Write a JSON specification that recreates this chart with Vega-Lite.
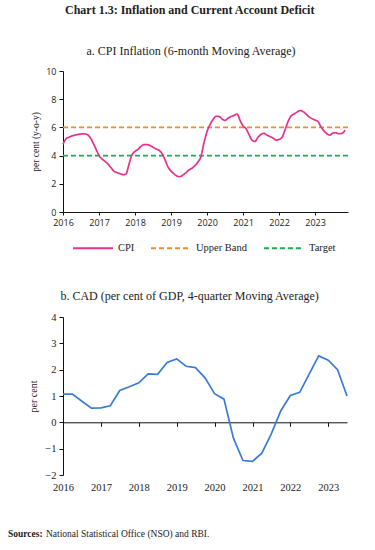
{
  "$schema": "https://vega.github.io/schema/vega-lite/v6.json",
  "background": "white",
  "padding": {"left": 7, "top": 4, "right": 5, "bottom": 5},
  "title": {"text": "Chart 1.3: Inflation and Current Account Deficit", "font": "Liberation Serif", "fontSize": 12, "fontWeight": "bold", "color": "#222", "anchor": "middle", "frame": "bounds", "offset": 28, "dx": 10},
  "config": {
    "view": {"stroke": null},
    "axis": {"grid": false, "domainColor": "#111", "tickColor": "#111", "labelColor": "#222", "titleColor": "#222", "titleFontWeight": "normal", "titleFont": "Liberation Serif", "labelOverlap": false}
  },
  "resolve": {"legend": {"color": "independent", "strokeDash": "independent"}},
  "spacing": 36,
  "vconcat": [
    {
      "title": {"text": "a. CPI Inflation (6-month Moving Average)", "font": "Liberation Serif", "fontSize": 12, "fontWeight": "normal", "color": "#222", "frame": "bounds", "anchor": "middle", "offset": 9},
      "width": 285,
      "height": 141,
      "data": {"values": [
        {"d": "2016-01-01", "CPI": 4.8, "Upper Band": 6, "Target": 4},
        {"d": "2016-02-01", "CPI": 5.2}, {"d": "2016-03-01", "CPI": 5.3}, {"d": "2016-04-01", "CPI": 5.4},
        {"d": "2016-05-01", "CPI": 5.45}, {"d": "2016-06-01", "CPI": 5.5}, {"d": "2016-07-01", "CPI": 5.53},
        {"d": "2016-08-01", "CPI": 5.55}, {"d": "2016-09-01", "CPI": 5.5}, {"d": "2016-10-01", "CPI": 5.3},
        {"d": "2016-11-01", "CPI": 4.9}, {"d": "2016-12-01", "CPI": 4.45},
        {"d": "2017-01-01", "CPI": 4.0}, {"d": "2017-02-01", "CPI": 3.75}, {"d": "2017-03-01", "CPI": 3.6},
        {"d": "2017-04-01", "CPI": 3.4}, {"d": "2017-05-01", "CPI": 3.15}, {"d": "2017-06-01", "CPI": 2.9},
        {"d": "2017-07-01", "CPI": 2.8}, {"d": "2017-08-01", "CPI": 2.72}, {"d": "2017-09-01", "CPI": 2.65},
        {"d": "2017-10-01", "CPI": 2.7}, {"d": "2017-11-01", "CPI": 3.4}, {"d": "2017-12-01", "CPI": 4.05},
        {"d": "2018-01-01", "CPI": 4.3}, {"d": "2018-02-01", "CPI": 4.45}, {"d": "2018-03-01", "CPI": 4.65},
        {"d": "2018-04-01", "CPI": 4.78}, {"d": "2018-05-01", "CPI": 4.78}, {"d": "2018-06-01", "CPI": 4.72},
        {"d": "2018-07-01", "CPI": 4.6}, {"d": "2018-08-01", "CPI": 4.47}, {"d": "2018-09-01", "CPI": 4.38},
        {"d": "2018-10-01", "CPI": 4.15}, {"d": "2018-11-01", "CPI": 3.7}, {"d": "2018-12-01", "CPI": 3.2},
        {"d": "2019-01-01", "CPI": 2.9}, {"d": "2019-02-01", "CPI": 2.7}, {"d": "2019-03-01", "CPI": 2.55},
        {"d": "2019-04-01", "CPI": 2.5}, {"d": "2019-05-01", "CPI": 2.62}, {"d": "2019-06-01", "CPI": 2.78},
        {"d": "2019-07-01", "CPI": 2.98}, {"d": "2019-08-01", "CPI": 3.1}, {"d": "2019-09-01", "CPI": 3.3},
        {"d": "2019-10-01", "CPI": 3.55}, {"d": "2019-11-01", "CPI": 3.95}, {"d": "2019-12-01", "CPI": 4.9},
        {"d": "2020-01-01", "CPI": 5.7}, {"d": "2020-02-01", "CPI": 6.2}, {"d": "2020-03-01", "CPI": 6.55},
        {"d": "2020-04-01", "CPI": 6.79}, {"d": "2020-05-01", "CPI": 6.78}, {"d": "2020-06-01", "CPI": 6.6},
        {"d": "2020-07-01", "CPI": 6.5}, {"d": "2020-08-01", "CPI": 6.65}, {"d": "2020-09-01", "CPI": 6.78},
        {"d": "2020-10-01", "CPI": 6.85}, {"d": "2020-11-01", "CPI": 6.95}, {"d": "2020-12-01", "CPI": 6.5},
        {"d": "2021-01-01", "CPI": 6.1}, {"d": "2021-02-01", "CPI": 5.9}, {"d": "2021-03-01", "CPI": 5.5},
        {"d": "2021-04-01", "CPI": 5.1}, {"d": "2021-05-01", "CPI": 5.0}, {"d": "2021-06-01", "CPI": 5.3},
        {"d": "2021-07-01", "CPI": 5.5}, {"d": "2021-08-01", "CPI": 5.58}, {"d": "2021-09-01", "CPI": 5.45},
        {"d": "2021-10-01", "CPI": 5.35}, {"d": "2021-11-01", "CPI": 5.25}, {"d": "2021-12-01", "CPI": 5.1},
        {"d": "2022-01-01", "CPI": 5.15}, {"d": "2022-02-01", "CPI": 5.3}, {"d": "2022-03-01", "CPI": 5.8},
        {"d": "2022-04-01", "CPI": 6.4}, {"d": "2022-05-01", "CPI": 6.8}, {"d": "2022-06-01", "CPI": 6.95},
        {"d": "2022-07-01", "CPI": 7.08}, {"d": "2022-08-01", "CPI": 7.2}, {"d": "2022-09-01", "CPI": 7.12},
        {"d": "2022-10-01", "CPI": 6.95}, {"d": "2022-11-01", "CPI": 6.75}, {"d": "2022-12-01", "CPI": 6.62},
        {"d": "2023-01-01", "CPI": 6.52}, {"d": "2023-02-01", "CPI": 6.4}, {"d": "2023-03-01", "CPI": 6.05},
        {"d": "2023-04-01", "CPI": 5.75}, {"d": "2023-05-01", "CPI": 5.55}, {"d": "2023-06-01", "CPI": 5.45},
        {"d": "2023-07-01", "CPI": 5.6}, {"d": "2023-08-01", "CPI": 5.62}, {"d": "2023-09-01", "CPI": 5.55},
        {"d": "2023-10-01", "CPI": 5.58}, {"d": "2023-11-01", "CPI": 5.8},
        {"d": "2023-12-01", "Upper Band": 6, "Target": 4}
      ]},
      "transform": [
        {"fold": ["Target", "Upper Band", "CPI"], "as": ["series", "value"]},
        {"filter": "isValid(datum.value)"}
      ],
      "mark": {"type": "line", "interpolate": "monotone", "strokeWidth": 1.7},
      "encoding": {
        "x": {"field": "d", "type": "temporal", "scale": {"domain": ["2016-01-01", "2023-12-01"]},
          "axis": {"title": null, "format": "%Y", "tickCount": {"interval": "year", "step": 1}, "labelFont": "Open Sans", "labelFontSize": 9, "tickSize": 3, "labelPadding": 3, "labelFlush": false}},
        "y": {"field": "value", "type": "quantitative", "scale": {"domain": [0, 10]},
          "axis": {"title": "per cent (y-o-y)", "values": [0, 2, 4, 6, 8, 10], "labelFont": "Open Sans", "labelFontSize": 9, "tickSize": 4, "labelPadding": 3, "titleFontSize": 9.5, "titlePadding": 5}},
        "color": {"field": "series", "type": "nominal", "sort": ["CPI", "Upper Band", "Target"],
          "scale": {"domain": ["CPI", "Upper Band", "Target"], "range": ["#E8318C", "#F28A30", "#1EAE4A"]},
          "legend": {"title": null, "orient": "none", "legendX": 9, "legendY": 156, "direction": "horizontal", "symbolType": "stroke", "symbolSize": 1600, "symbolStrokeWidth": 2, "labelFont": "Liberation Serif", "labelFontSize": 10.5, "labelColor": "#222", "columnPadding": 12, "labelOffset": 4}},
        "strokeDash": {"field": "series", "type": "nominal", "sort": ["CPI", "Upper Band", "Target"],
          "scale": {"domain": ["CPI", "Upper Band", "Target"], "range": [[1, 0], [5, 3], [5, 3]]},
          "legend": {"title": null, "orient": "none", "legendX": 9, "legendY": 156, "direction": "horizontal", "symbolType": "stroke", "symbolSize": 1600, "symbolStrokeWidth": 2, "labelFont": "Liberation Serif", "labelFontSize": 10.5, "labelColor": "#222", "columnPadding": 12, "labelOffset": 4}}
      }
    },
    {
      "title": {"text": "b. CAD (per cent of GDP, 4-quarter Moving Average)", "font": "Liberation Serif", "fontSize": 12, "fontWeight": "normal", "color": "#222", "frame": "bounds", "anchor": "middle", "offset": 9},
      "width": 284,
      "height": 158,
      "data": {"values": [
        {"d": "2016-01-01", "v": 1.07}, {"d": "2016-04-01", "v": 1.07}, {"d": "2016-07-01", "v": 0.8}, {"d": "2016-10-01", "v": 0.54},
        {"d": "2017-01-01", "v": 0.55}, {"d": "2017-04-01", "v": 0.63}, {"d": "2017-07-01", "v": 1.21}, {"d": "2017-10-01", "v": 1.35},
        {"d": "2018-01-01", "v": 1.5}, {"d": "2018-04-01", "v": 1.84}, {"d": "2018-07-01", "v": 1.82}, {"d": "2018-10-01", "v": 2.27},
        {"d": "2019-01-01", "v": 2.41}, {"d": "2019-04-01", "v": 2.13}, {"d": "2019-07-01", "v": 2.08}, {"d": "2019-10-01", "v": 1.69},
        {"d": "2020-01-01", "v": 1.09}, {"d": "2020-04-01", "v": 0.88}, {"d": "2020-07-01", "v": -0.6}, {"d": "2020-10-01", "v": -1.45},
        {"d": "2021-01-01", "v": -1.48}, {"d": "2021-04-01", "v": -1.17}, {"d": "2021-07-01", "v": -0.44}, {"d": "2021-10-01", "v": 0.44},
        {"d": "2022-01-01", "v": 1.02}, {"d": "2022-04-01", "v": 1.14}, {"d": "2022-07-01", "v": 1.83}, {"d": "2022-10-01", "v": 2.52},
        {"d": "2023-01-01", "v": 2.36}, {"d": "2023-04-01", "v": 2.0}, {"d": "2023-07-01", "v": 1.0}
      ]},
      "mark": {"type": "line", "color": "#3B7BD6", "strokeWidth": 1.7},
      "encoding": {
        "x": {"field": "d", "type": "temporal", "scale": {"domain": ["2016-01-01", "2023-07-01"]},
          "axis": {"title": null, "format": "%Y", "tickCount": {"interval": "year", "step": 1}, "labelFont": "Liberation Serif", "labelFontSize": 10.5, "tickSize": 4, "labelPadding": 56, "offset": -52.7, "labelFlush": false}},
        "y": {"field": "v", "type": "quantitative", "scale": {"domain": [-2, 4]},
          "axis": {"title": "per cent", "values": [-2, -1, 0, 1, 2, 3, 4], "labelFont": "Liberation Serif", "labelFontSize": 10.5, "tickSize": 4, "labelPadding": 3, "titleFontSize": 10, "titlePadding": 6}}
      }
    },
    {
      "width": 284,
      "height": 10,
      "layer": [
        {
          "data": {"values": [{"t": "Sources:"}]},
          "mark": {"type": "text", "align": "left", "baseline": "middle", "font": "Liberation Serif", "fontSize": 9.5, "fontWeight": "bold", "color": "#222"},
          "encoding": {"text": {"field": "t"}, "x": {"datum": -0.1937, "type": "quantitative", "scale": {"domain": [0, 1]}, "axis": null}}
        },
        {
          "data": {"values": [{"t": "National Statistical Office (NSO) and RBI."}]},
          "mark": {"type": "text", "align": "left", "baseline": "middle", "font": "Liberation Serif", "fontSize": 9.5, "color": "#222", "dx": 38},
          "encoding": {"text": {"field": "t"}, "x": {"datum": -0.1937, "type": "quantitative", "scale": {"domain": [0, 1]}, "axis": null}}
        }
      ]
    }
  ]
}
